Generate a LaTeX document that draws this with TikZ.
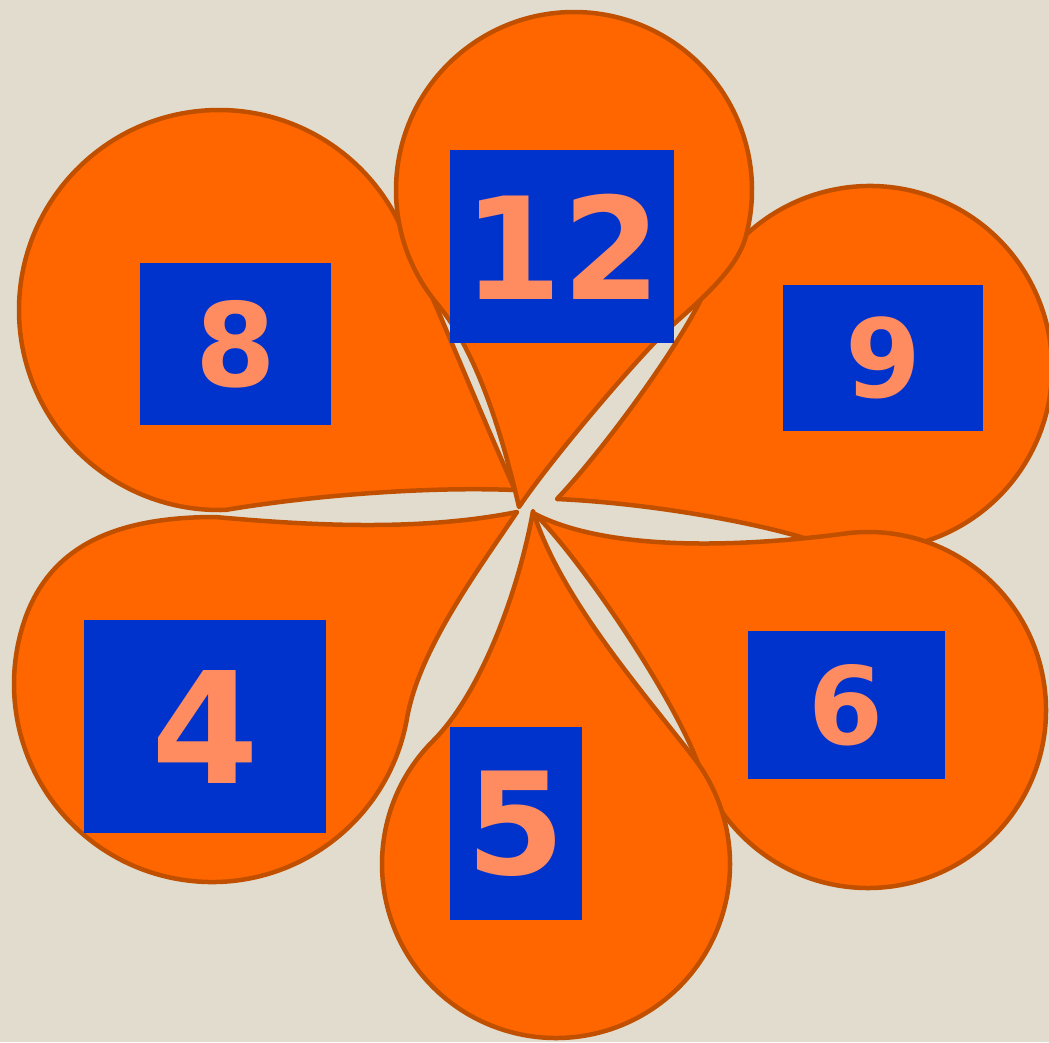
\documentclass[tikz,border=0pt]{standalone}
\usepackage{fontspec}
\newfontfamily\numfont{DejaVu Sans}
\definecolor{paper}{RGB}{226,220,207}
\definecolor{petalfill}{RGB}{255,102,0}
\definecolor{petalline}{RGB}{192,80,0}
\definecolor{boxblue}{RGB}{0,51,204}
\definecolor{numpink}{RGB}{255,139,96}

\begin{document}
\begin{tikzpicture}[x=1pt, y=-1pt,
  petal/.style={fill=petalfill, draw=petalline, line width=4.5pt, line join=round},
  numbox/.style={fill=boxblue, text=numpink, inner sep=0pt,
    font=\numfont\bfseries\fontsize{#1}{#1}\selectfont}]
  \fill[paper] (0,0) rectangle (1049,1042);
  \useasboundingbox (0,0) rectangle (1049,1042);
  \clip (0,0) rectangle (1049,1042);

  \coordinate (T9) at (557,499);  \coordinate (C9) at (870,368);
  \coordinate (T6) at (535,514);  \coordinate (C6) at (868,710);
  \coordinate (T5) at (533,511);  \coordinate (C5) at (556,864);
  \coordinate (T4) at (517,512);  \coordinate (C4) at (212,684);
  \coordinate (T8) at (515,490);  \coordinate (C8) at (219,310);
  \coordinate (T12) at (519,507); \coordinate (C12) at (574,190);

  \draw[petal] (T9) .. controls +(48,-51) and +(-25,54) .. ([shift={(C9)}]-155:182)
    arc[start angle=-155, end angle=108, radius=182]
    .. controls +(-57,-19) and +(90,4) .. (T9) -- cycle;
  \draw[petal] (T6) .. controls +(80,41) and +(-89,12) .. ([shift={(C6)}]-96:178)
    arc[start angle=-96, end angle=161, radius=178]
    .. controls +(-23,-66) and +(49,49) .. (T6) -- cycle;
  \draw[petal] (T5) .. controls +(27,86) and +(-55,-71) .. ([shift={(C5)}]-38:174)
    arc[start angle=-38, end angle=225, radius=174]
    .. controls +(49,-49) and +(-14,78) .. (T5) -- cycle;
  \draw[petal] (T4) .. controls +(-39,58) and +(12,-69) .. ([shift={(C4)}]10:198)
    arc[start angle=10, end angle=200, radius=198]
    .. controls +(26,-70) and +(-100,0) .. (215,517)
    .. controls +(90,8) and +(-100,20) .. (T4) -- cycle;
  \draw[petal] (T8) .. controls +(-100,-4) and +(70,-12) .. ([shift={(C8)}]88:200)
    arc[start angle=88, end angle=335, radius=200]
    .. controls +(38,82) and +(-37,-82) .. (T8) -- cycle;
  \draw[petal] (T12) .. controls +(-18,-78) and +(38,46) .. ([shift={(C12)}]140:178)
    arc[start angle=140, end angle=375, radius=178]
    .. controls +(-10,39) and +(25,-25) .. (660,337)
    .. controls +(-28,28) and +(33,-49) .. (T12) -- cycle;

  \node[numbox=116, minimum width=191pt, minimum height=162pt] (n8) at (235.5,344) {8};
  \node[numbox=142, minimum width=224pt, minimum height=193pt] (n12) at (562,246.5) {12};
  \node[numbox=109, minimum width=200pt, minimum height=146pt] (n9) at (883,358) {9};
  \node[numbox=108, minimum width=197pt, minimum height=148pt] (n6) at (846.5,705) {6};
  \node[numbox=142, minimum width=132pt, minimum height=193pt] (n5) at (516,823.5) {5};
  \node[numbox=155, minimum width=242pt, minimum height=213pt] (n4) at (205,726.5) {4};
\end{tikzpicture}
\end{document}
